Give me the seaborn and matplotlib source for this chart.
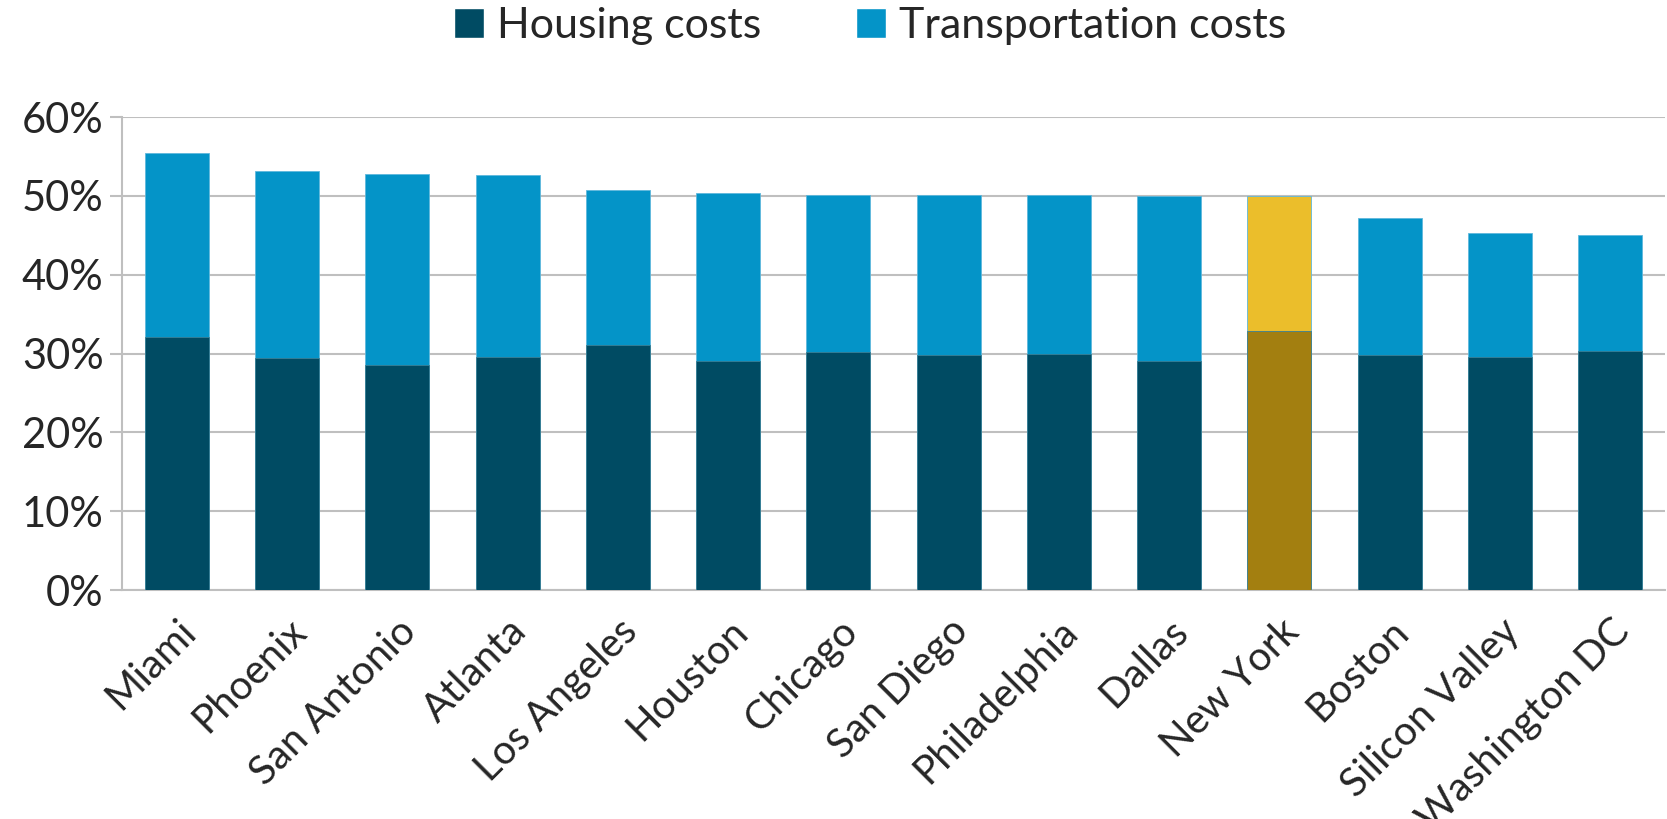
import numpy as np
import pandas as pd
import seaborn as sns
import matplotlib.pyplot as plt
from matplotlib.patches import Patch

cities = ["Miami", "Phoenix", "San Antonio", "Atlanta", "Los Angeles", "Houston",
          "Chicago", "San Diego", "Philadelphia", "Dallas", "New York", "Boston",
          "Silicon Valley", "Washington DC"]
housing = [32.1, 29.4, 28.6, 29.6, 31.1, 29.0, 30.2, 29.8, 29.9, 29.0, 32.9, 29.8, 29.6, 30.3]
transport = [23.4, 23.7, 24.2, 23.1, 19.6, 21.4, 19.9, 20.3, 20.2, 21.0, 17.1, 17.4, 15.7, 14.8]
highlight = "New York"

df = pd.DataFrame({"city": cities, "housing": housing, "transport": transport})
df["total"] = df["housing"] + df["transport"]

sns.set_theme(style="white")
plt.rcParams['font.family'] = ['Lato', 'DejaVu Sans']

dark, light = "#004b63", "#0494c8"
hl_dark, hl_light = "#a37f10", "#ebbe2b"
pal_total = {c: (hl_light if c == highlight else light) for c in cities}
pal_house = {c: (hl_dark if c == highlight else dark) for c in cities}

fig = plt.figure(figsize=(16.67, 8.19), dpi=100)
ax = fig.add_axes([0.073, 0.2796, 0.926, 0.5774])

sns.barplot(data=df, x="city", y="total", hue="city", palette=pal_total, legend=False,
            width=0.58, saturation=1, ax=ax, edgecolor="#5fb8dc", linewidth=0.6, zorder=2)
sns.barplot(data=df, x="city", y="housing", hue="city", palette=pal_house, legend=False,
            width=0.58, saturation=1, ax=ax, edgecolor="#3a7f95", linewidth=0.6, zorder=3)

ax.set_ylim(0, 60)
ax.set_xlim(-0.5, len(cities) - 0.5)
ax.set_yticks(np.arange(0, 61, 10))
ax.set_yticklabels([f"{v}%" for v in range(0, 61, 10)], fontsize=30)
ax.yaxis.grid(True, color="#bfbfbf", linewidth=1.5, zorder=0)
ax.set_axisbelow(True)
ax.set_xlabel("")
ax.set_ylabel("")

ax.set_xticks(range(len(cities)))
ax.set_xticklabels(cities, rotation=45, ha="right", rotation_mode="anchor", fontsize=29)
ax.set_xticks(np.arange(-0.5, len(cities), 1), minor=True)
ax.tick_params(axis="x", which="major", length=0, pad=16)
ax.tick_params(axis="x", which="minor", length=10, width=1.5, color="#bfbfbf", direction="out")
ax.tick_params(axis="y", length=9, width=1.5, color="#bfbfbf", direction="out", pad=4, left=True)

for s in ["top", "right"]:
    ax.spines[s].set_visible(False)
for s in ["left", "bottom"]:
    ax.spines[s].set_color("#bfbfbf")
    ax.spines[s].set_linewidth(1.5)

handles = [Patch(facecolor=dark, label="Housing costs"),
           Patch(facecolor=light, label="Transportation costs")]
fig.legend(handles=handles, loc="center", bbox_to_anchor=(0.522, 0.968), ncol=2,
           frameon=False, fontsize=31, handlelength=0.7, handleheight=0.7,
           handletextpad=0.3, columnspacing=2.2)

fig.savefig("out.png", dpi=100)
